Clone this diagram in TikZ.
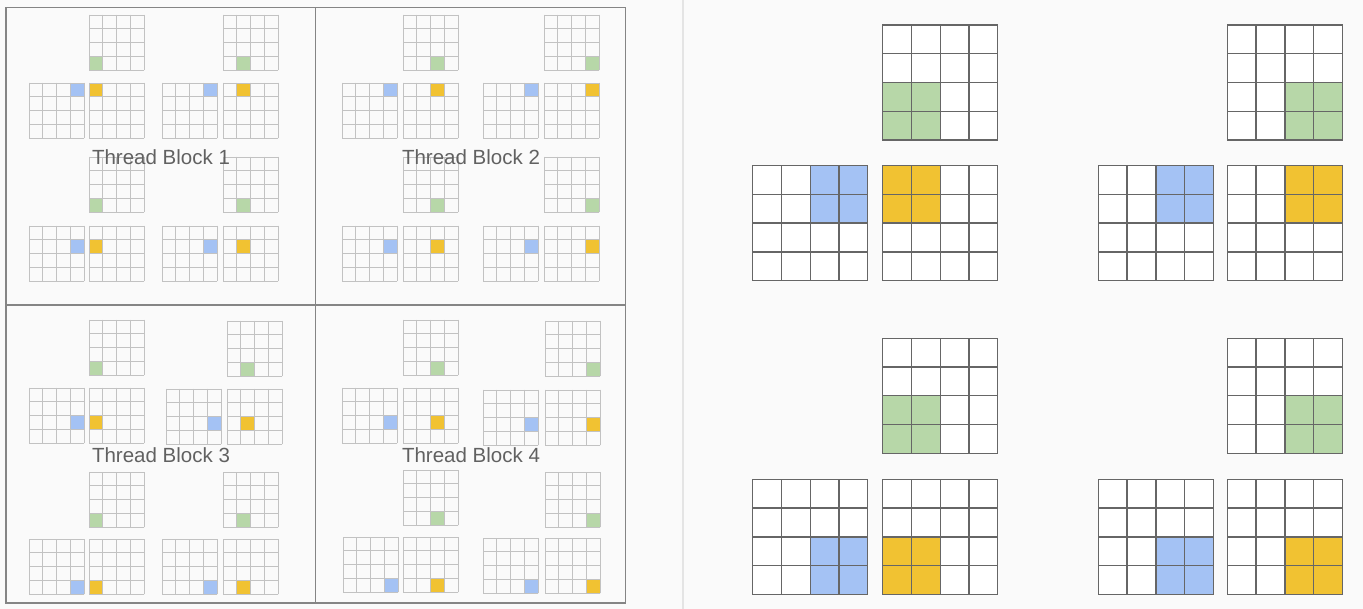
\documentclass[tikz,border=0pt]{standalone}
\usepackage{fontspec}
\setmainfont{Liberation Sans}
\usepackage{xcolor}
\usetikzlibrary{positioning}

\definecolor{tbgreen}{HTML}{B7D7A8}
\definecolor{tbblue}{HTML}{A4C2F4}
\definecolor{tbyellow}{HTML}{F1C232}
\definecolor{pagebg}{HTML}{FAFAFA}
\definecolor{sepgray}{HTML}{E4E4E4}
\definecolor{framegray}{HTML}{858585}
\definecolor{smallline}{HTML}{C2C2C2}
\definecolor{bigline}{HTML}{666666}

\newcommand{\smallcell}{13.75}
\newcommand{\bigcell}{28.75}

% 4x4 tile: x, y, cell, style, row, col, span, colour
\newcommand{\tile}[8]{%
  \begin{scope}[shift={(#1,#2)}]
    \path[#4 back] (0,0) rectangle (4*#3,4*#3);
    \fill[#8] (#6*#3,#5*#3) rectangle ++(#7*#3,#7*#3);
    \foreach \k in {0,...,4} {
      \draw[#4] (\k*#3,0) -- (\k*#3,4*#3);
      \draw[#4] (0,\k*#3) -- (4*#3,\k*#3);
    }
  \end{scope}}

% one thread: top tile x,y; left tile x,y; row; col
\newcommand{\thread}[6]{%
  \tile{#1}{#2}{\smallcell}{small}{3}{#6}{1}{tbgreen}
  \tile{#3}{#4}{\smallcell}{small}{#5}{3}{1}{tbblue}
  \tile{#1}{#4}{\smallcell}{small}{#5}{#6}{1}{tbyellow}}

\newcommand{\bigthread}[6]{%
  \tile{#1}{#2}{\bigcell}{big}{2}{#6}{2}{tbgreen}
  \tile{#3}{#4}{\bigcell}{big}{#5}{2}{2}{tbblue}
  \tile{#1}{#4}{\bigcell}{big}{#5}{#6}{2}{tbyellow}}

\begin{document}
\begin{tikzpicture}[
  x=1pt, y=-1pt,
  small/.style={draw=smallline, line width=0.9pt, line cap=rect},
  small back/.style={},
  big/.style={draw=bigline, line width=1.4pt, line cap=rect},
  big back/.style={fill=white},
  frame/.style={draw=framegray, line width=1.4pt},
  blocklabel/.style={font=\fontsize{20.5}{24}\selectfont, text=black!62, inner sep=0pt}
]
\fill[pagebg] (0,0) rectangle (1363,609);
\useasboundingbox (0,0) rectangle (1363,609);
\draw[sepgray, line width=2.5pt] (683,0) -- (683,609);

% Thread Block 1
\thread{89}{15}{29}{83}{0}{0}
\thread{223}{15}{162}{83}{0}{1}
\thread{89}{157}{29}{226}{1}{0}
\thread{223}{157}{162}{226}{1}{1}
% Thread Block 2
\thread{403}{15}{342}{83}{0}{2}
\thread{544}{15}{483}{83}{0}{3}
\thread{403}{157}{342}{226}{1}{2}
\thread{544}{157}{483}{226}{1}{3}
% Thread Block 3
\thread{89}{320}{29}{388}{2}{0}
\thread{227}{321}{166}{389}{2}{1}
\thread{89}{472}{29}{539}{3}{0}
\thread{223}{472}{162}{539}{3}{1}
% Thread Block 4
\thread{403}{320}{342}{388}{2}{2}
\thread{545}{321}{483}{390}{2}{3}
\thread{403}{470}{343}{537}{3}{2}
\thread{545}{472}{483}{538}{3}{3}

% block frames
\draw[frame] (6,7.5) rectangle (625.5,603);
\draw[frame] (315.5,7.5) -- (315.5,603);
\draw[frame] (6,305) -- (625.5,305);

\node[blocklabel] (tb1) at (161,157) {Thread Block 1};
\node[blocklabel] (tb2) at (471,157) {Thread Block 2};
\node[blocklabel] (tb3) at (161,455) {Thread Block 3};
\node[blocklabel] (tb4) at (471,455) {Thread Block 4};

% 2x2 tiles (right)
\bigthread{882.7}{25}{752.7}{165.7}{0}{0}
\bigthread{1227.3}{25}{1098.3}{165.7}{0}{2}
\bigthread{882.7}{338.3}{752.7}{479.3}{2}{0}
\bigthread{1227.3}{338.3}{1098.3}{479.3}{2}{2}
\end{tikzpicture}
\end{document}
